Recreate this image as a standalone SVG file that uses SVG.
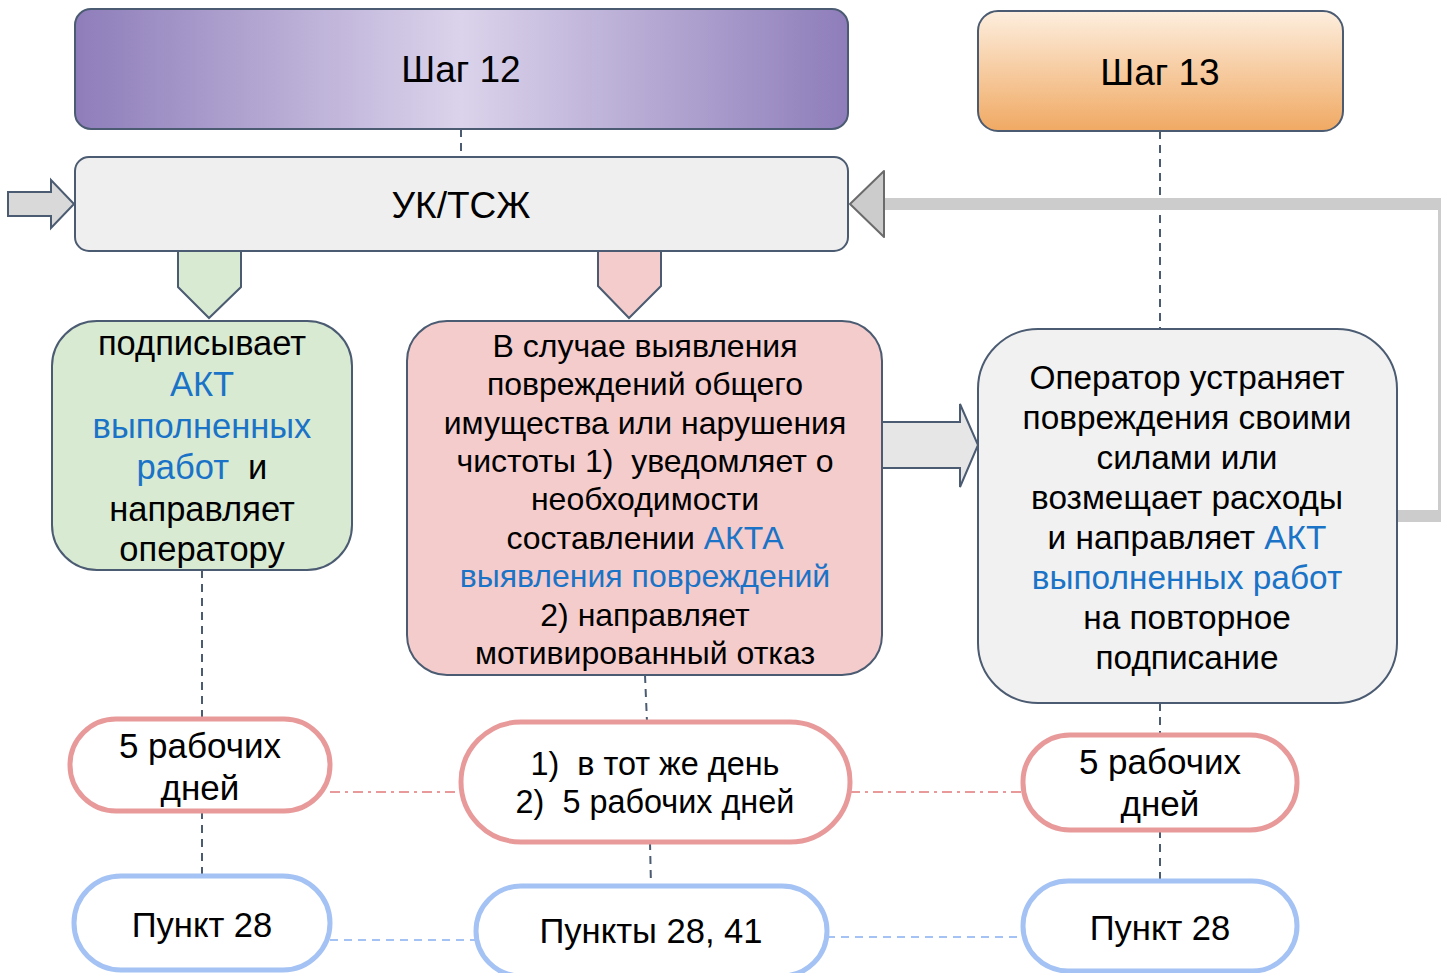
<svg xmlns="http://www.w3.org/2000/svg" width="1441" height="973" viewBox="0 0 1441 973">
<defs>
<linearGradient id="gPurple" x1="0" y1="0" x2="1" y2="0">
<stop offset="0" stop-color="#8e7dba"/>
<stop offset="0.5" stop-color="#dbd3eb"/>
<stop offset="1" stop-color="#8e7dba"/>
</linearGradient>
<linearGradient id="gOrange" x1="0" y1="0" x2="0" y2="1">
<stop offset="0" stop-color="#fdeede"/>
<stop offset="1" stop-color="#f0a963"/>
</linearGradient>
</defs>
<style>
.box{stroke:#4b5b72;stroke-width:2}
.t{font-family:"Liberation Sans",Arial,sans-serif;fill:#000;text-anchor:middle;white-space:pre}
.lnk{fill:#1a73c6}
.dash{fill:none;stroke:#4b5b72;stroke-width:2;stroke-dasharray:8 6}
.red{fill:#fff;stroke:#e89a9a;stroke-width:5}
.blue{fill:#fff;stroke:#a4c2f4;stroke-width:5}
.rdd{fill:none;stroke:#e89a9a;stroke-width:2;stroke-dasharray:10 5 3 5}
.bdd{fill:none;stroke:#a4c2f4;stroke-width:2;stroke-dasharray:8 6}
</style>
<g id="connectors">
<path class="dash" d="M461 129V157"/>
<path class="dash" d="M1160 131V329"/>
<path class="dash" d="M1160 703V735"/>
<path class="dash" d="M1160 830V881"/>
<path class="dash" d="M202 570V719"/>
<path class="dash" d="M202 811V876"/>
<path class="dash" d="M645 675L647 722"/>
<path class="dash" d="M650 842L651 886"/>
<path class="rdd" d="M330 792H461"/>
<path class="rdd" d="M850 792H1023"/>
<path class="bdd" d="M330 940H476"/>
<path class="bdd" d="M827 937H1023"/>
<path d="M1397 516H1444V204H884" fill="none" stroke="#cccccc" stroke-width="12"/>
<path d="M884 171L850 204L884 237Z" fill="#cccccc" stroke="#6b6b6b" stroke-width="2" stroke-linejoin="round"/>
<path d="M8 192H51V180L74 204L51 228V216H8Z" fill="#d9d9d9" stroke="#4b5b72" stroke-width="2"/>
<path d="M178 251H241V287L209 318L178 287Z" fill="#d9ead3" stroke="#4b5b72" stroke-width="2"/>
<path d="M598 251H661V286L629 318L598 286Z" fill="#f4cccc" stroke="#4b5b72" stroke-width="2"/>
<path d="M882 422H960V404L978 445L960 487V468H882Z" fill="#e6e6e6" stroke="#4b5b72" stroke-width="2"/>
</g>
<g id="step12">
<rect class="box" x="75" y="9" width="773" height="120" rx="16" fill="url(#gPurple)"/>
<text class="t" x="461" y="82" font-size="37">Шаг 12</text>
</g>
<g id="step13">
<rect class="box" x="978" y="11" width="365" height="120" rx="20" fill="url(#gOrange)"/>
<text class="t" x="1160" y="85" font-size="37">Шаг 13</text>
</g>
<g id="uk">
<rect class="box" x="75" y="157" width="773" height="94" rx="14" fill="#efefef"/>
<text class="t" x="461" y="218" font-size="37">УК/ТСЖ</text>
</g>
<g id="green">
<rect class="box" x="52" y="321" width="300" height="249" rx="45" fill="#d9ead3"/>
<text class="t" font-size="34.5"><tspan x="202" y="355">подписывает</tspan><tspan x="202" y="396" class="lnk">АКТ</tspan><tspan x="202" y="438" class="lnk">выполненных</tspan><tspan x="202" y="479"><tspan class="lnk">работ</tspan>  и</tspan><tspan x="202" y="521">направляет</tspan><tspan x="202" y="561">оператору</tspan></text>
</g>
<g id="pink">
<rect class="box" x="407" y="321" width="475" height="354" rx="40" fill="#f4cccc"/>
<text class="t" font-size="32"><tspan x="645" y="357">В случае выявления</tspan><tspan x="645" y="395">повреждений общего</tspan><tspan x="645" y="434">имущества или нарушения</tspan><tspan x="645" y="472">чистоты 1)  уведомляет о</tspan><tspan x="645" y="510">необходимости</tspan><tspan x="645" y="549">составлении <tspan class="lnk">АКТА</tspan></tspan><tspan x="645" y="587" class="lnk">выявления повреждений</tspan><tspan x="645" y="626">2) направляет</tspan><tspan x="645" y="664">мотивированный отказ</tspan></text>
</g>
<g id="operator">
<rect class="box" x="978" y="329" width="419" height="374" rx="60" fill="#f1f1f1"/>
<text class="t" font-size="33.4"><tspan x="1187" y="389">Оператор устраняет</tspan><tspan x="1187" y="429">повреждения своими</tspan><tspan x="1187" y="469">силами или</tspan><tspan x="1187" y="509">возмещает расходы</tspan><tspan x="1187" y="549">и направляет <tspan class="lnk">АКТ</tspan></tspan><tspan x="1187" y="589" class="lnk">выполненных работ</tspan><tspan x="1187" y="629">на повторное</tspan><tspan x="1187" y="669">подписание</tspan></text>
</g>
<g id="term1">
<rect class="red" x="70" y="719" width="260" height="92" rx="46"/>
<text class="t" font-size="35"><tspan x="200" y="758">5 рабочих</tspan><tspan x="200" y="800">дней</tspan></text>
</g>
<g id="term2">
<rect class="red" x="461" y="722" width="389" height="120" rx="60"/>
<text class="t" font-size="32.4"><tspan x="655" y="775">1)  в тот же день</tspan><tspan x="655" y="813">2)  5 рабочих дней</tspan></text>
</g>
<g id="term3">
<rect class="red" x="1023" y="735" width="274" height="95" rx="47"/>
<text class="t" font-size="35"><tspan x="1160" y="774">5 рабочих</tspan><tspan x="1160" y="816">дней</tspan></text>
</g>
<g id="p1">
<rect class="blue" x="74" y="876" width="256" height="94" rx="47"/>
<text class="t" x="202" y="937" font-size="34.6">Пункт 28</text>
</g>
<g id="p2">
<rect class="blue" x="476" y="886" width="351" height="90" rx="45"/>
<text class="t" x="651" y="943" font-size="34.6">Пункты 28, 41</text>
</g>
<g id="p3">
<rect class="blue" x="1023" y="881" width="274" height="90" rx="45"/>
<text class="t" x="1160" y="940" font-size="34.6">Пункт 28</text>
</g>
</svg>
